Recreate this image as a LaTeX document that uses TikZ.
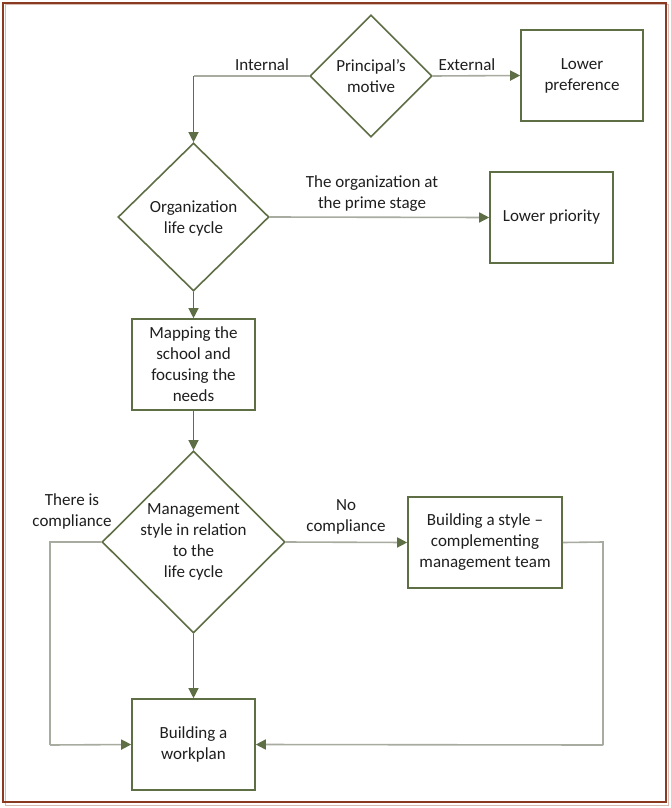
\documentclass[tikz,border=0pt]{standalone}
\usepackage{fontspec}
\setmainfont{Carlito}
\usetikzlibrary{shapes.geometric,arrows.meta}
\definecolor{boxgreen}{HTML}{5E6E45}
\definecolor{linegray}{HTML}{A7ABA0}
\definecolor{framebrown}{HTML}{8B3A22}
\definecolor{txtcol}{HTML}{1E1E1E}
\tikzset{
  box/.style={draw=boxgreen, line width=1.6pt, rectangle, inner sep=0pt, align=center,
    font=\fontsize{17}{21}\selectfont, text=txtcol},
  dia/.style={draw=boxgreen, line width=1.6pt, diamond, inner sep=0pt},
  txt/.style={align=center, font=\fontsize{17}{21}\selectfont, text=txtcol, inner sep=0pt},
  tip/.style={-{Triangle[length=10pt,width=10pt,color=boxgreen]}},
  vline/.style={draw=boxgreen, line width=1.2pt},
  hline/.style={draw=linegray, line width=1.6pt},
}
\begin{document}
\begin{tikzpicture}[x=1pt,y=-1pt]
\useasboundingbox (0,0) rectangle (670,808);
\draw[framebrown!35, line width=1pt] (5,5) rectangle (668,805);
\draw[framebrown, line width=2.6pt] (3,3) rectangle (666,802);

% nodes
\node[dia, minimum width=122pt, minimum height=122pt] (d1) at (371,76) {};
\node[txt] (d1t) at (371,76) {Principal's\\motive};
\node[box, minimum width=122pt, minimum height=91pt] (lp) at (582,75.5) {Lower\\preference};

\node[dia, minimum width=151pt, minimum height=148pt] (d2) at (193.5,217) {};
\node[txt] (d2t) at (193.5,218) {Organization\\life cycle};
\node[box, minimum width=123pt, minimum height=91pt] (lpr) at (551.5,217.5) {Lower priority};

\node[box, minimum width=123pt, minimum height=91pt] (map) at (193.5,364.5) {Mapping the\\school and\\focusing the\\needs};

\node[dia, minimum width=183pt, minimum height=182pt] (d3) at (193.5,542) {};
\node[txt] (d3t) at (193.5,542) {Management\\style in relation\\to the\\life cycle};
\node[box, minimum width=154pt, minimum height=91pt] (sty) at (485,542.5) {Building a style --\\complementing\\management team};

\node[box, minimum width=123pt, minimum height=91pt] (wp) at (193.5,744.5) {Building a\\workplan};

% coordinates for elbows
\coordinate (c1) at (193.5,76);
\coordinate (c2) at (50,542);
\coordinate (c3) at (50,745);
\coordinate (c4) at (603,542);
\coordinate (c5) at (603,745);

% connectors
\draw[hline] (d1.west) -- (c1);
\draw[vline, tip] (c1) -- (d2.north);
\draw[hline, tip] (d1.east) -- (lp.west);
\draw[hline, tip] (d2.east) -- (lpr.west);
\draw[vline, tip] (d2.south) -- (map.north);
\draw[vline, tip] (map.south) -- (d3.north);
\draw[hline, tip] (d3.east) -- (sty.west);
\draw[vline, tip] (d3.south) -- (wp.north);
\draw[hline] (d3.west) -- (c2) -- (c3);
\draw[hline, tip] (c3) -- (wp.west);
\draw[hline] (sty.east) -- (c4) -- (c5);
\draw[hline, tip] (c5) -- (wp.east);

% labels
\node[txt] (l1) at (262,65) {Internal};
\node[txt] (l2) at (467,65) {External};
\node[txt] (l3) at (372,194) {The organization at\\the prime stage};
\node[txt] (l4) at (72,511) {There is\\compliance};
\node[txt] (l5) at (346,517) {No\\compliance};
\end{tikzpicture}
\end{document}
